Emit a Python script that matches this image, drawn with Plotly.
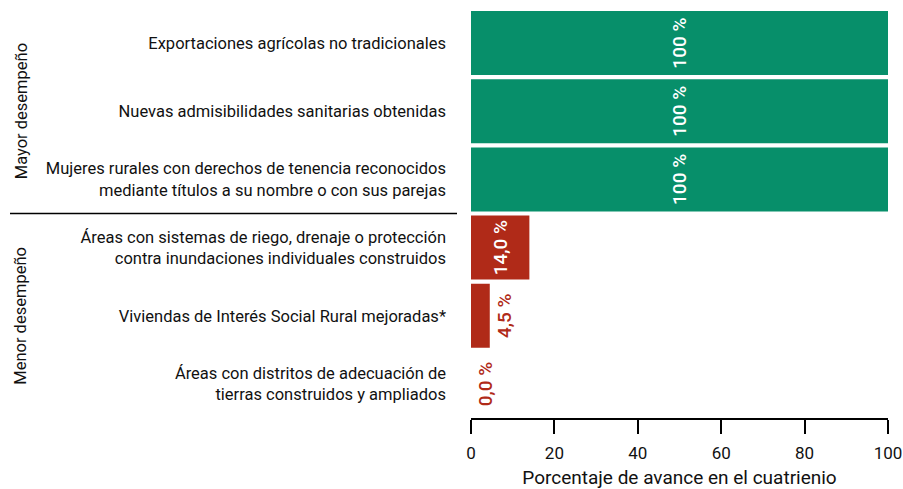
import plotly.graph_objects as go

categories = [
    "Exportaciones agrícolas no tradicionales",
    "Nuevas admisibilidades sanitarias obtenidas",
    "Mujeres rurales con derechos de tenencia reconocidos<br>mediante títulos a su nombre o con sus parejas",
    "Áreas con sistemas de riego, drenaje o protección<br>contra inundaciones individuales construidos",
    "Viviendas de Interés Social Rural mejoradas*",
    "Áreas con distritos de adecuación de<br>tierras construidos y ampliados",
]
values = [100, 100, 100, 14.0, 4.5, 0.0]
value_labels = ["100 %", "100 %", "100 %", "14,0 %", "4,5 %", "0,0 %"]
groups = ["Mayor desempeño", "Menor desempeño"]
group_of = [0, 0, 0, 1, 1, 1]

GREEN = "#078f6a"
RED = "#b02a18"
bar_colors = [GREEN if g == 0 else RED for g in group_of]
text_pos = ["inside" if v >= 10 else "outside" for v in values]
text_colors = ["white" if p == "inside" else RED for p in text_pos]

FONT = "Roboto"

fig = go.Figure(go.Bar(
    x=values, y=categories, orientation="h",
    marker=dict(color=bar_colors, line=dict(width=0)),
    text=value_labels, textposition=text_pos, textangle=-90,
    insidetextanchor="middle",
    textfont=dict(family=FONT, size=19, color=text_colors, weight=500),
    cliponaxis=False,
    hoverinfo="skip",
))

fig.update_layout(
    width=903, height=489,
    margin=dict(l=471, r=15, t=9, b=71),
    plot_bgcolor="white", paper_bgcolor="white",
    bargap=0.06,
    font=dict(family=FONT, size=16.5, color="#111111"),
    showlegend=False,
    xaxis=dict(range=[0, 100], tickvals=[0, 20, 40, 60, 80, 100],
               showline=True, linecolor="black", linewidth=2,
               ticks="outside", ticklen=14, tickwidth=1.5, tickcolor="black",
               showgrid=False, zeroline=False, automargin=False,
               ticklabelstandoff=5,
               tickfont=dict(size=17),
               title=dict(text="Porcentaje de avance en el cuatrienio", font=dict(size=19), standoff=13)),
    yaxis=dict(autorange="reversed", showgrid=False, showline=False, ticks="",
               automargin=False, ticklabelstandoff=24, tickfont=dict(size=16.5)),
)

# group separator line between the two groups
fig.add_shape(type="line", xref="paper", yref="y",
              x0=(10 - 471) / 417, x1=(457 - 471) / 417, y0=2.5, y1=2.5,
              line=dict(color="black", width=1.5))

for gi, name in enumerate(groups):
    idx = [i for i, g in enumerate(group_of) if g == gi]
    fig.add_annotation(xref="paper", yref="y", x=(21 - 471) / 417,
                       y=(idx[0] + idx[-1]) / 2, text=name, textangle=-90,
                       showarrow=False, font=dict(size=16.5), xanchor="center", yanchor="middle")

fig.write_html("out.html", config={"displayModeBar": False},
               post_script="document.body.style.margin='0';document.body.style.overflow='hidden';")
